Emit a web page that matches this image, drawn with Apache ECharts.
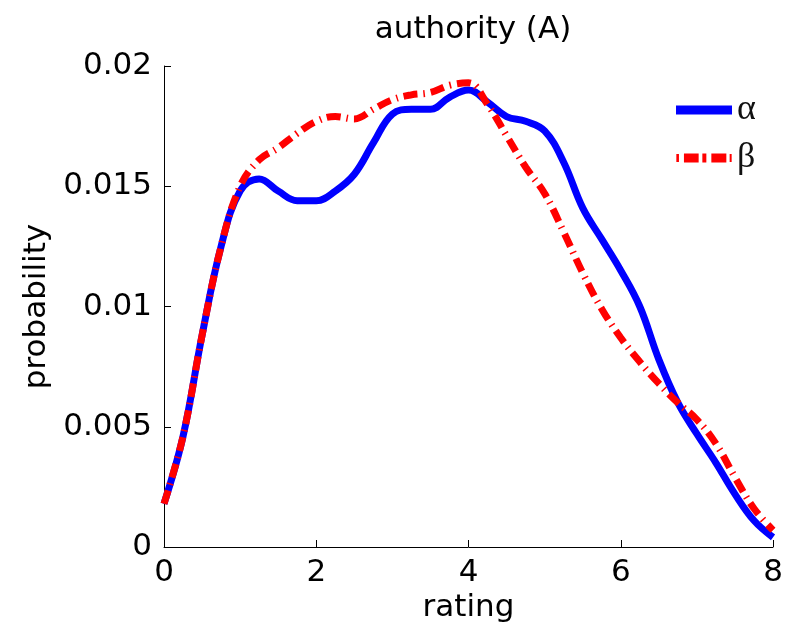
<!DOCTYPE html>
<html>
<head>
<meta charset="utf-8">
<script src="https://cdn.jsdelivr.net/npm/echarts@6/dist/echarts.min.js"></script>
<style>html,body{margin:0;padding:0;background:#fff}#c{width:791px;height:634px}</style>
</head>
<body>
<div id="c"></div>
<script>
var ratings = [0,0.25,0.5,0.75,1,1.25,1.5,1.75,2,2.25,2.5,2.75,3,3.25,3.5,3.75,4,4.25,4.5,4.75,5,5.25,5.5,5.75,6,6.25,6.5,6.75,7,7.25,7.5,7.75,8];
var alphaVals = [0.0018,0.0046,0.0088,0.0125,0.0148,0.0153,0.0148,0.0144,0.0144,0.0148,0.0155,0.0168,0.0180,0.0182,0.0182,0.0187,0.0190,0.0185,0.0179,0.0177,0.0173,0.0160,0.0141,0.0128,0.0115,0.0100,0.0078,0.0060,0.0047,0.0035,0.0022,0.0011,0.0004];
var betaVals = [0.0018,0.0046,0.0088,0.0125,0.0150,0.0161,0.0166,0.0172,0.0177,0.0179,0.0178,0.0182,0.0186,0.0188,0.0189,0.0192,0.0193,0.0184,0.0171,0.0158,0.0147,0.0131,0.0114,0.0099,0.0087,0.0077,0.0068,0.0060,0.0053,0.0043,0.0029,0.0016,0.0007];
var xTicks = [0,2,4,6,8];
var yTicks = [0,0.005,0.01,0.015,0.02];
var seriesNames = ['α','β'];

function pairs(xs, ys){ return xs.map(function(x,i){ return [x, ys[i]]; }); }

var solidIcon = 'path://M0,0L56,0L56,9L0,9Z';
var dashIcon = 'path://M0.7,0.5L3.3,0.5L3.3,8.5L0.7,8.5Z M8.3,0L23,0L23,9L8.3,9Z M26.7,0L30.7,0L30.7,9L26.7,9Z M35.7,0L50.7,0L50.7,9L35.7,9Z M54,0.5L56,0.5L56,8.5L54,8.5Z';

var chart = echarts.init(document.getElementById('c'));
var sans = 'DejaVu Sans, Arial, sans-serif';
chart.setOption({
  animation: false,
  title: {
    text: 'authority (A)', left: 468, top: 9, textAlign: 'center',
    textStyle: { fontFamily: sans, fontSize: 31, fontWeight: 'normal', color: '#000' }
  },
  legend: {
    data: [{ name: seriesNames[0], icon: solidIcon }, { name: seriesNames[1], icon: dashIcon }],
    orient: 'vertical', left: 671, top: 87,
    itemWidth: 56, itemHeight: 9, itemGap: 12,
    textStyle: { fontFamily: 'Liberation Serif, Times New Roman, serif', fontSize: 36, lineHeight: 36, color: '#111' }
  },
  grid: { left: 164, right: 18, top: 66, bottom: 87 },
  xAxis: {
    type: 'value', min: xTicks[0], max: xTicks[xTicks.length-1], interval: 2,
    name: 'rating', nameLocation: 'middle', nameGap: 42,
    nameTextStyle: { fontFamily: sans, fontSize: 31, color: '#000' },
    axisLine: { show: true, lineStyle: { color: '#000', width: 1 } },
    axisTick: { show: true, inside: true, length: 7, lineStyle: { color: '#000' } },
    axisLabel: { fontFamily: sans, fontSize: 31, color: '#000', margin: 10 },
    splitLine: { show: false }
  },
  yAxis: {
    type: 'value', min: yTicks[0], max: yTicks[yTicks.length-1], interval: 0.005,
    name: 'probability', nameLocation: 'middle', nameGap: 104, nameRotate: 90,
    nameTextStyle: { fontFamily: sans, fontSize: 31, color: '#000' },
    axisLine: { show: true, lineStyle: { color: '#000', width: 1 } },
    axisTick: { show: true, inside: true, length: 7, lineStyle: { color: '#000' } },
    axisLabel: { fontFamily: sans, fontSize: 31, color: '#000', margin: 12 },
    splitLine: { show: false }
  },
  series: [
    {
      name: seriesNames[0], type: 'line', data: pairs(ratings, alphaVals), smooth: 0.4,
      symbol: 'none', color: '#0000ff',
      lineStyle: { color: '#0000ff', width: 7 }
    },
    {
      name: seriesNames[1], type: 'line', data: pairs(ratings, betaVals), smooth: 0.4,
      symbol: 'none', color: '#ff0000',
      lineStyle: { color: '#ff0000', width: 7, type: [14, 6, 1.5, 6], cap: 'butt' }
    }
  ]
});
</script>
</body>
</html>
